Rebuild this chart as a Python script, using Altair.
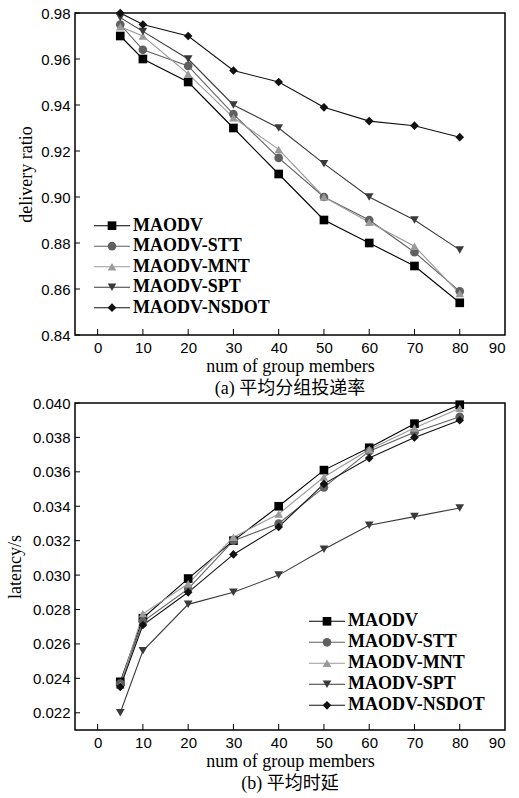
import altair as alt
import pandas as pd

series = ["MAODV", "MAODV-STT", "MAODV-MNT", "MAODV-SPT", "MAODV-NSDOT"]
members = [5, 10, 20, 30, 40, 50, 60, 70, 80]

delivery = {
    "MAODV":       [0.970, 0.960, 0.950, 0.930, 0.910, 0.890, 0.880, 0.870, 0.854],
    "MAODV-STT":   [0.975, 0.964, 0.957, 0.936, 0.917, 0.900, 0.890, 0.876, 0.859],
    "MAODV-MNT":   [0.974, 0.970, 0.9535, 0.9345, 0.9207, 0.900, 0.889, 0.8786, 0.858],
    "MAODV-SPT":   [0.978, 0.972, 0.960, 0.940, 0.930, 0.9145, 0.900, 0.890, 0.877],
    "MAODV-NSDOT": [0.980, 0.975, 0.970, 0.955, 0.950, 0.939, 0.933, 0.931, 0.926],
}
latency = {
    "MAODV":       [0.0238, 0.0275, 0.0298, 0.0320, 0.0340, 0.0361, 0.0374, 0.0388, 0.0399],
    "MAODV-STT":   [0.0237, 0.0273, 0.0292, 0.0320, 0.0330, 0.0351, 0.0372, 0.0383, 0.0392],
    "MAODV-MNT":   [0.0236, 0.02775, 0.0295, 0.0322, 0.03355, 0.0357, 0.0373, 0.03855, 0.0397],
    "MAODV-SPT":   [0.0220, 0.0256, 0.0283, 0.0290, 0.0300, 0.0315, 0.0329, 0.0334, 0.0339],
    "MAODV-NSDOT": [0.0235, 0.0271, 0.0290, 0.0312, 0.0328, 0.0353, 0.0368, 0.0380, 0.0390],
}

x_ticks = [0, 10, 20, 30, 40, 50, 60, 70, 80, 90]
y_ticks_a = [0.84, 0.86, 0.88, 0.90, 0.92, 0.94, 0.96, 0.98]
y_ticks_b = [0.022, 0.024, 0.026, 0.028, 0.030, 0.032, 0.034, 0.036, 0.038, 0.040]

line_colors = ["#000000", "#606060", "#9a9a9a", "#3a3a3a", "#111111"]
shapes = ["square", "circle", "triangle-up", "triangle-down", "diamond"]
sizes = [75, 75, 85, 85, 115]

SERIF = "Liberation Serif"
SANS = "Liberation Sans"
W = 430


def long_df(d):
    rows = []
    for s in series:
        for m, v in zip(members, d[s]):
            rows.append({"series": s, "members": m, "value": v})
    return pd.DataFrame(rows)


color_scale = alt.Scale(domain=series, range=line_colors)
shape_scale = alt.Scale(domain=series, range=shapes)
size_scale = alt.Scale(domain=series, range=sizes)


def panel(d, ydomain, yticks, yfmt, ytitle, caption, H, leg_x0, leg_range, ytp):
    df = long_df(d)
    xs = alt.Scale(domain=[-5, 90], nice=False, zero=False)
    ys = alt.Scale(domain=ydomain, nice=False, zero=False)
    xaxis = alt.Axis(values=x_ticks, format="d", title="num of group members",
                     ticks=False, domain=False, grid=False, labelPadding=5,
                     labelOverlap=False,
                     labelFont=SANS, labelFontSize=15, labelColor="black",
                     titleFont=SERIF, titleFontSize=18, titleFontWeight="normal",
                     titleColor="black", titlePadding=2)
    yaxis = alt.Axis(values=yticks, format=yfmt, title=ytitle, tickCount=len(yticks),
                     ticks=False, domain=False, grid=False, labelPadding=5,
                     labelOverlap=False, labelBound=False,
                     labelFont=SANS, labelFontSize=15, labelColor="black",
                     titleFont=SERIF, titleFontSize=18, titleFontWeight="normal",
                     titleColor="black", titlePadding=ytp)
    base = alt.Chart(df)
    lines = base.mark_line(strokeWidth=1.1).encode(
        x=alt.X("members:Q", scale=xs, axis=xaxis),
        y=alt.Y("value:Q", scale=ys, axis=yaxis),
        color=alt.Color("series:N", scale=color_scale, legend=None),
        detail="series:N",
    )
    pts = base.mark_point(filled=True, opacity=1, strokeWidth=0).encode(
        x=alt.X("members:Q", scale=xs, axis=xaxis),
        y=alt.Y("value:Q", scale=ys, axis=yaxis),
        color=alt.Color("series:N", scale=color_scale, legend=None),
        shape=alt.Shape("series:N", scale=shape_scale, legend=None),
        size=alt.Size("series:N", scale=size_scale, legend=None),
    )
    ytk = alt.Chart(pd.DataFrame({"value": yticks})).mark_rule(color="black", strokeWidth=1).encode(
        y=alt.Y("value:Q", scale=ys, axis=yaxis), x=alt.value(0), x2=alt.value(5))
    xtk = alt.Chart(pd.DataFrame({"members": x_ticks[:-1]})).mark_rule(color="black", strokeWidth=1).encode(
        x=alt.X("members:Q", scale=xs, axis=xaxis), y=alt.value(H), y2=alt.value(H - 6))
    main = alt.layer(lines, pts, ytk, xtk)

    ldf = pd.DataFrame({"series": series, "idx": list(range(len(series)))})
    ly = alt.Y("idx:Q", scale=alt.Scale(domain=[0, 4], range=leg_range), axis=None)
    lbase = alt.Chart(ldf)
    lrule = lbase.mark_rule(strokeWidth=1.1).encode(
        y=ly, x=alt.value(leg_x0), x2=alt.value(leg_x0 + 36),
        color=alt.Color("series:N", scale=color_scale, legend=None))
    lpt = lbase.mark_point(filled=True, opacity=1, strokeWidth=0).encode(
        y=ly, x=alt.value(leg_x0 + 18),
        color=alt.Color("series:N", scale=color_scale, legend=None),
        shape=alt.Shape("series:N", scale=shape_scale, legend=None),
        size=alt.Size("series:N", scale=size_scale, legend=None))
    ltxt = lbase.mark_text(align="left", baseline="middle", font=SERIF, fontSize=18,
                           fontWeight="bold", color="black").encode(
        y=ly, x=alt.value(leg_x0 + 39), text="series:N")
    legend = alt.layer(lrule, lpt, ltxt)

    return alt.layer(main, legend).resolve_scale(y="independent").properties(
        width=W, height=H,
        title=alt.TitleParams(caption, orient="bottom", font=SERIF + ", Noto Sans CJK SC",
                              fontSize=18, fontWeight="normal", color="black", offset=5),
    )


top = panel(delivery, [0.84, 0.98], y_ticks_a, ".2f", "delivery ratio",
            "(a) 平均分组投递率", 322, 19, [212.7, 294.7], 5)
bottom = panel(latency, [0.021, 0.040], y_ticks_b, ".3f", "latency/s",
               "(b) 平均时延", 327, 234, [218.3, 302.3], 8)

chart = alt.vconcat(top, bottom, spacing=68, bounds="flush").configure(
    background="white", padding={"left": 5, "top": 5, "right": 5, "bottom": 0}
).configure_view(stroke="black", strokeWidth=1.5).configure_axis(labelOverlap=False)

chart.save("out.html", embed_options={"renderer": "svg", "actions": False})
